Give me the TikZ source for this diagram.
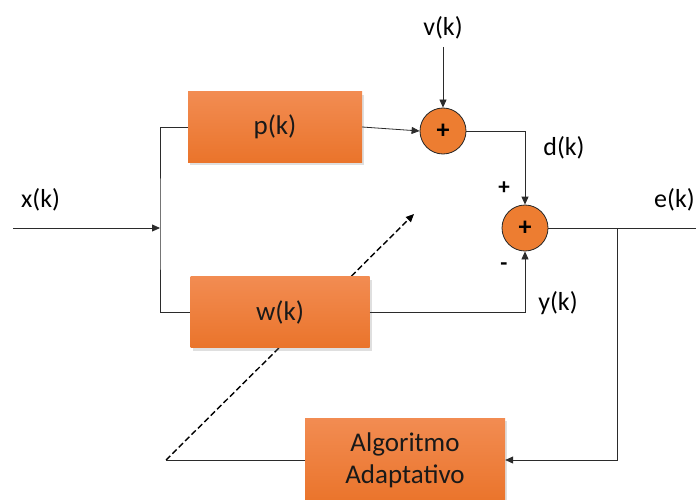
\documentclass[tikz,border=0pt]{standalone}
\usepackage{fontspec}
\setmainfont{Carlito}
\usetikzlibrary{arrows.meta,shadows}
\definecolor{boxorange}{HTML}{ED7D31}
\definecolor{boxtop}{HTML}{F28C52}
\definecolor{boxbot}{HTML}{EA742B}
\definecolor{wire}{HTML}{2B2B2B}
\tikzset{
  block/.style={rectangle, draw=none, top color=boxtop, bottom color=boxbot,
    minimum width=#1, text=black!90, font=\fontsize{27}{32}\selectfont,
    drop shadow={opacity=0.25, shadow xshift=2pt, shadow yshift=-3pt}},
  summer/.style={circle, draw=black!85, line width=0.8pt, fill=boxorange,
    minimum size=46pt, inner sep=0pt, font=\fontsize{26}{26}\selectfont\bfseries},
  sig/.style={font=\fontsize{26}{30}\selectfont, inner sep=0pt},
  sgn/.style={font=\fontsize{23}{23}\selectfont\bfseries, inner sep=0pt},
  wireline/.style={draw=wire, line width=0.8pt},
  arr/.style={wireline, -{Triangle[length=8pt,width=7pt]}},
}
\begin{document}
\begin{tikzpicture}[x=1pt, y=-1pt]
  \useasboundingbox (0,0) rectangle (696,500);

  % points that are not nodes
  \coordinate (xin)    at (13,228);
  \coordinate (join)   at (160,228);
  \coordinate (vin)    at (443,47);
  \coordinate (tap)    at (617,228);
  \coordinate (eout)   at (700,228);
  \coordinate (dstart) at (166,460);
  \coordinate (dend)   at (414,214);

  % adjustment arrow across the filter (runs behind w(k))
  \draw[arr, dashed, dash pattern=on 6pt off 3pt, line width=1.4pt, draw=black] (dstart) -- (dend);

  % blocks
  \node[block=174pt, minimum height=70pt] (p)   at (275,127) {p(k)};
  \node[block=179pt, minimum height=71pt] (w)   at (280,312) {w(k)};
  \node[block=200pt, minimum height=84pt, align=center] (alg) at (405,460) {Algoritmo\\Adaptativo};

  % summing junctions
  \node[summer] (s1) at (443,131) {+};
  \node[summer] (s2) at (525,228) {+};

  % signal labels
  \node[sig, anchor=west] (lx) at (21,200) {x(k)};
  \node[sig] (lv) at (443,28)  {v(k)};
  \node[sig] (ld) at (564,148) {d(k)};
  \node[sig, anchor=west] (le) at (654,200) {e(k)};
  \node[sig] (ly) at (558,303) {y(k)};
  \node[sgn] (plus)  at (504,188) {+};
  \node[sgn] (minus) at (504,267) {-};

  % connectors
  \draw[arr] (xin) -- (join);
  \draw[wireline] (p.west) -| (join) |- (w.west);
  \draw[arr] (p.east) -- (s1.west);
  \draw[arr] (vin) -- (s1.north);
  \draw[arr] (s1.east) -| (s2.north);
  \draw[arr] (w.east) -| (s2.south);
  \draw[wireline] (s2.east) -- (eout);
  \draw[arr] (tap) |- (alg.east);
  \draw[wireline] (alg.west) -- (dstart);
\end{tikzpicture}
\end{document}
